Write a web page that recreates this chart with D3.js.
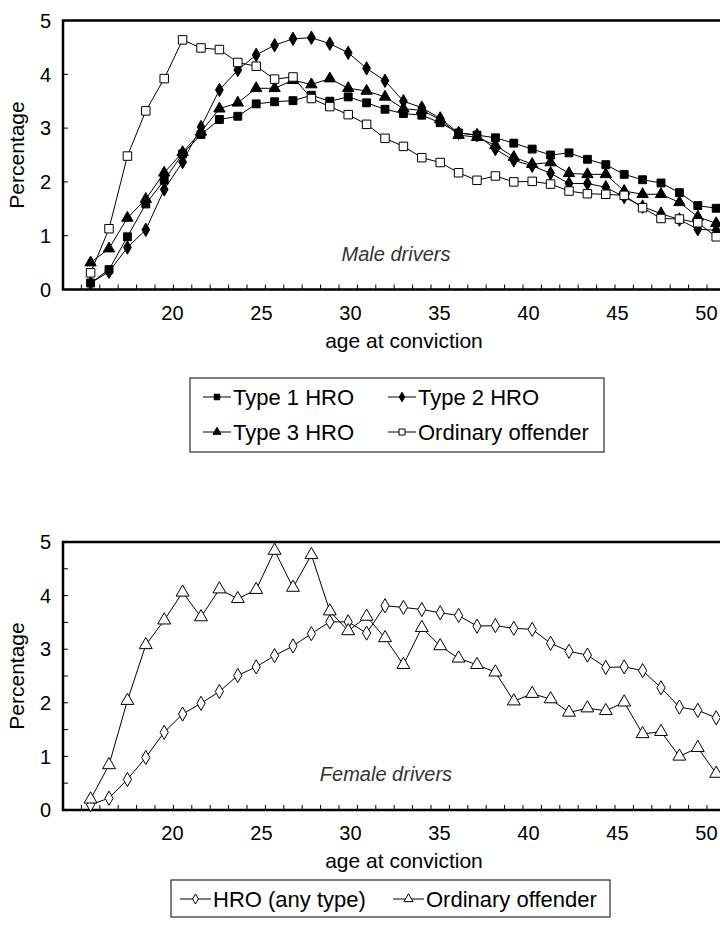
<!DOCTYPE html>
<html><head><meta charset="utf-8">
<script src="https://cdn.jsdelivr.net/npm/d3@7"></script>
<style>
body{margin:0;background:#fff}
svg{display:block}
text{font-family:"Liberation Sans",Arial,sans-serif;fill:#000}
</style>
</head><body>
<svg id="chart" width="720" height="927"></svg>
<script>
// ---------- DATA ----------
const ages = [15.5,16.5,17.5,18.5,19.5,20.5,21.5,22.5,23.5,24.5,25.5,26.5,27.5,28.5,29.5,30.5,31.5,32.5,33.5,34.5,35.5,36.5,37.5,38.5,39.5,40.5,41.5,42.5,43.5,44.5,45.5,46.5,47.5,48.5,49.5];
const xTickLabels = [20,25,30,35,40,45,50];
const yTickLabels = [0,1,2,3,4,5];

const maleType1 = [0.12,0.37,0.98,1.59,2.03,2.52,2.88,3.16,3.22,3.45,3.49,3.51,3.61,3.50,3.58,3.47,3.35,3.27,3.24,3.10,2.91,2.87,2.82,2.72,2.61,2.50,2.54,2.42,2.32,2.14,2.04,1.98,1.80,1.56,1.51];
const maleType2 = [0.12,0.33,0.78,1.11,1.86,2.37,3.02,3.71,4.08,4.36,4.54,4.66,4.68,4.57,4.40,4.11,3.88,3.50,3.38,3.18,2.91,2.87,2.61,2.40,2.30,2.16,1.97,1.97,1.90,1.72,1.54,1.41,1.30,1.12,1.10];
const maleType3 = [0.50,0.76,1.33,1.68,2.17,2.55,2.93,3.36,3.47,3.74,3.74,3.89,3.81,3.92,3.74,3.69,3.58,3.36,3.33,3.16,2.87,2.83,2.68,2.46,2.33,2.36,2.16,2.14,2.14,1.83,1.77,1.77,1.62,1.35,1.23];
const maleOrdinary = [0.31,1.13,2.48,3.32,3.92,4.64,4.49,4.46,4.22,4.15,3.91,3.95,3.55,3.40,3.25,3.07,2.81,2.66,2.45,2.36,2.17,2.03,2.11,2.00,2.01,1.96,1.83,1.78,1.77,1.75,1.52,1.32,1.31,1.24,0.98];

const femaleHRO = [0.10,0.22,0.57,0.98,1.45,1.79,1.99,2.21,2.51,2.67,2.88,3.06,3.29,3.51,3.51,3.30,3.81,3.78,3.74,3.68,3.63,3.43,3.44,3.39,3.37,3.11,2.96,2.89,2.66,2.67,2.60,2.28,1.92,1.86,1.72];
const femaleOrdinary = [0.20,0.84,2.04,3.08,3.54,4.06,3.60,4.12,3.94,4.11,4.84,4.15,4.76,3.71,3.34,3.61,3.21,2.71,3.40,3.06,2.83,2.71,2.57,2.03,2.17,2.07,1.82,1.90,1.85,2.01,1.42,1.46,1.00,1.16,0.68];

const maleSeries = [
  {name:"Type 1 HRO", values:maleType1, symbol:"square", fill:"#000", size:62},
  {name:"Type 2 HRO", values:maleType2, symbol:"diamond", fill:"#000", size:52},
  {name:"Type 3 HRO", values:maleType3, symbol:"triangle", fill:"#000", size:56},
  {name:"Ordinary offender", values:maleOrdinary, symbol:"square", fill:"#fff", size:72}
];
const femaleSeries = [
  {name:"HRO (any type)", values:femaleHRO, symbol:"diamond", fill:"#fff", size:58},
  {name:"Ordinary offender", values:femaleOrdinary, symbol:"triangle", fill:"#fff", size:72}
];

// ---------- LAYOUT ----------
const svg = d3.select("#chart");
const symbolTypes = {square:d3.symbolSquare, diamond:d3.symbolDiamond, triangle:d3.symbolTriangle};
const x = d3.scaleLinear().domain([14, 51]).range([63, 63 + 37*18.4]);
const xLabel = d3.scaleLinear().domain([20, 50]).range([x(20) - 1, x(20) - 1 + 30*17.8]);

function panel(cfg){
  const y = d3.scaleLinear().domain([0,5]).range([cfg.bottom, cfg.top]);
  const g = svg.append("g");
  const right = 730;
  g.append("g").selectAll("line").data(d3.range(15, 51)).join("line")
    .attr("x1", d=>x(d)).attr("x2", d=>x(d))
    .attr("y1", cfg.bottom).attr("y2", cfg.bottom-5)
    .attr("stroke","#000").attr("stroke-width",1);
  g.append("g").selectAll("line").data(cfg.yTicks).join("line")
    .attr("x1", x(14)).attr("x2", x(14)+5)
    .attr("y1", d=>y(d)).attr("y2", d=>y(d))
    .attr("stroke","#000").attr("stroke-width",1);
  g.append("path")
    .attr("d", `M${right},${y(5)}H${x(14)}V${y(0)}H${right}`)
    .attr("fill","none").attr("stroke","#000").attr("stroke-width",2.5);
  g.append("g").selectAll("text").data(yTickLabels).join("text")
    .attr("x", 51).attr("y", d=>y(d)).attr("dy","0.36em")
    .attr("text-anchor","end").style("font-size","20px").text(d=>d);
  g.append("g").selectAll("text").data(xTickLabels).join("text")
    .attr("x", d=>xLabel(d)).attr("y", cfg.bottom + 30)
    .attr("text-anchor","middle").style("font-size","20px").text(d=>d);
  g.append("text").attr("x", 404).attr("y", cfg.bottom + 58)
    .attr("text-anchor","middle").style("font-size","21px").text("age at conviction");
  g.append("text").attr("transform", `translate(24,${(y(0)+y(5))/2}) rotate(-90)`)
    .attr("text-anchor","middle").style("font-size","21px").text("Percentage");
  g.append("text").attr("x", cfg.captionX).attr("y", cfg.bottom - 29)
    .attr("text-anchor","middle").style("font-size","20px").style("font-style","italic")
    .style("fill","#333").text(cfg.caption);

  const line = d3.line().x((d,i)=>x(ages[i])).y(d=>y(d));
  cfg.series.forEach(s=>{
    g.append("path").attr("d", line(s.values)).attr("fill","none")
      .attr("stroke","#000").attr("stroke-width",1);
  });
  cfg.series.forEach(s=>{
    const sym = d3.symbol().type(symbolTypes[s.symbol]).size(s.size);
    g.append("g").selectAll("path").data(s.values).join("path")
      .attr("d", sym)
      .attr("transform",(d,i)=>`translate(${x(ages[i])},${y(d)})`)
      .attr("fill", s.fill).attr("stroke","#000").attr("stroke-width",1);
  });

  const L = cfg.legend;
  const lg = svg.append("g");
  lg.append("rect").attr("x",L.x).attr("y",L.y).attr("width",L.w).attr("height",L.h)
    .attr("fill","#fff").attr("stroke","#000").attr("stroke-width",1);
  cfg.series.forEach((s,i)=>{
    const col = i % L.cols, row = Math.floor(i / L.cols);
    const ex = L.x + L.pad + col*L.colW, ey = L.y + L.rowY0 + row*L.rowH;
    lg.append("line").attr("x1",ex).attr("x2",ex+L.lineW).attr("y1",ey).attr("y2",ey)
      .attr("stroke","#000").attr("stroke-width",1);
    const sym = d3.symbol().type(symbolTypes[s.symbol]).size(s.size*0.5);
    lg.append("path").attr("d",sym).attr("transform",`translate(${ex+L.lineW/2},${ey})`)
      .attr("fill",s.fill).attr("stroke","#000").attr("stroke-width",1);
    lg.append("text").attr("x",ex+L.lineW+2).attr("y",ey).attr("dy","0.36em")
      .style("font-size","22px").text(s.name);
  });
}

panel({top:542, bottom:289.5, yTicks:[1,2,3,4], series:maleSeries, caption:"Male drivers", captionX:396,
  legend:{x:190, y:378, w:414, h:74, cols:2, colW:185, pad:13, lineW:28, rowY0:19, rowH:35}, top:20.5});
panel({top:542, bottom:810, yTicks:[0.5,1,1.5,2,2.5,3,3.5,4,4.5], series:femaleSeries, caption:"Female drivers", captionX:386,
  legend:{x:171, y:880, w:439, h:37, cols:2, colW:213, pad:9, lineW:31, rowY0:19, rowH:35}});
</script>
</body></html>
